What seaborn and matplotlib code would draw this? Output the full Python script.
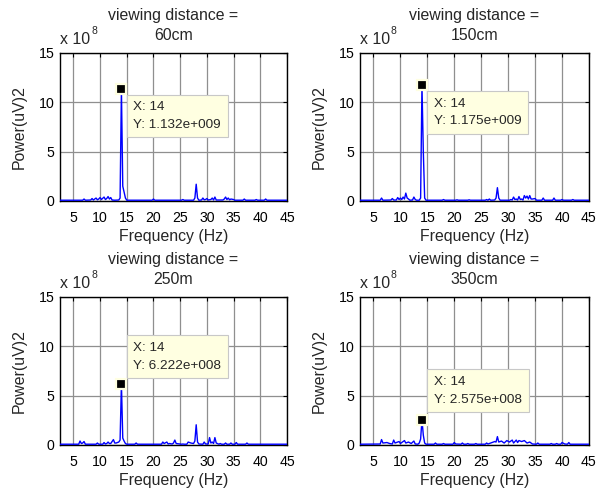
import matplotlib
matplotlib.use("Agg")
import matplotlib.pyplot as plt
import seaborn as sns
import pandas as pd

# Power spectra (units of 1e8 (uV)^2) at selected frequency bins (Hz)
freq_60 = [2.5, 6.75, 7.0, 7.25, 8.25, 8.5, 8.75, 9.25, 9.5, 9.75, 10.0, 10.25,
           10.75, 11.0, 11.25, 11.5, 11.75, 12.0, 12.25, 12.75, 13.5, 13.75, 14.0,
           14.25, 14.5, 14.75, 15.0, 19.75, 20.0, 20.25, 25.25, 25.5, 25.75, 27.5,
           27.75, 28.0, 28.25, 28.5, 29.0, 29.25, 29.5, 29.75, 30.0, 30.25, 30.75,
           31.0, 31.25, 31.5, 31.75, 33.0, 33.25, 33.5, 33.75, 34.0, 34.25, 34.5,
           35.0, 35.25, 36.75, 37.0, 37.25, 39.0, 39.25, 39.5, 40.75, 41.0, 41.25, 45.0]
power_60 = [0.08, 0.08, 0.2, 0.08, 0.1, 0.25, 0.1, 0.3, 0.12, 0.2, 0.35, 0.15,
            0.4, 0.15, 0.25, 0.45, 0.2, 0.35, 0.1, 0.08, 0.1, 0.3, 11.32,
            1.5, 0.9, 0.3, 0.08, 0.08, 0.2, 0.08, 0.08, 0.15, 0.08, 0.08,
            0.3, 1.7, 0.3, 0.08, 0.1, 0.3, 0.12, 0.15, 0.25, 0.1, 0.15,
            0.3, 0.1, 0.4, 0.1, 0.1, 0.2, 0.4, 0.15, 0.3, 0.12, 0.2,
            0.15, 0.08, 0.08, 0.2, 0.08, 0.08, 0.15, 0.08, 0.08, 0.2, 0.08, 0.08]

freq_150 = [2.5, 6.25, 6.5, 6.75, 8.25, 8.5, 8.75, 9.25, 9.5, 9.75, 10.0, 10.25,
            10.5, 10.75, 11.0, 11.25, 11.5, 11.75, 12.25, 12.5, 12.75, 13.0, 13.5,
            13.75, 14.0, 14.25, 14.5, 14.75, 17.75, 18.0, 18.25, 20.25, 20.5, 20.75,
            22.5, 22.75, 23.0, 25.75, 26.0, 26.25, 26.5, 26.75, 27.5, 27.75, 28.0,
            28.25, 28.5, 30.25, 30.5, 30.75, 31.0, 31.25, 31.5, 31.75, 32.0, 32.25,
            32.5, 32.75, 33.0, 33.25, 33.5, 33.75, 34.0, 34.25, 34.5, 35.0, 35.25,
            36.25, 36.5, 36.75, 38.25, 38.5, 38.75, 39.75, 40.0, 40.25, 41.75, 42.0,
            42.25, 45.0]
power_150 = [0.08, 0.08, 0.3, 0.08, 0.1, 0.25, 0.1, 0.1, 0.35, 0.15, 0.3, 0.15,
             0.4, 0.2, 0.8, 0.3, 0.2, 0.08, 0.1, 0.4, 0.15, 0.08, 0.08,
             0.3, 11.75, 5.0, 0.3, 0.08, 0.08, 0.15, 0.08, 0.08, 0.12, 0.08,
             0.08, 0.12, 0.08, 0.08, 0.15, 0.08, 0.2, 0.08, 0.1, 0.3, 1.35,
             0.3, 0.08, 0.08, 0.15, 0.1, 0.4, 0.15, 0.2, 0.1, 0.45, 0.15,
             0.2, 0.1, 0.55, 0.3, 0.5, 0.2, 0.55, 0.2, 0.2, 0.25, 0.08,
             0.08, 0.3, 0.08, 0.08, 0.3, 0.08, 0.08, 0.15, 0.08, 0.08, 0.15,
             0.08, 0.08]

freq_250 = [2.5, 6.0, 6.25, 6.5, 6.75, 7.0, 7.25, 9.25, 9.5, 9.75, 10.5, 10.75,
            11.0, 11.25, 11.5, 11.75, 12.0, 12.5, 12.75, 13.0, 13.5, 13.75, 14.0,
            14.25, 14.5, 14.75, 15.0, 16.5, 16.75, 17.0, 21.5, 21.75, 22.0, 22.5,
            22.75, 23.0, 23.5, 23.75, 24.0, 24.25, 25.25, 25.5, 25.75, 26.25, 26.5,
            27.0, 27.5, 27.75, 28.0, 28.25, 28.5, 29.25, 29.5, 29.75, 30.25, 30.5,
            30.75, 31.0, 31.25, 31.5, 31.75, 32.25, 32.5, 32.75, 33.25, 33.5, 33.75,
            34.25, 34.5, 34.75, 35.25, 35.5, 35.75, 37.25, 37.5, 37.75, 45.0]
power_250 = [0.08, 0.08, 0.4, 0.15, 0.2, 0.35, 0.08, 0.08, 0.2, 0.08, 0.08, 0.25,
             0.1, 0.15, 0.3, 0.15, 0.15, 0.55, 0.2, 0.2, 0.3, 0.5, 6.222,
             0.7, 0.4, 0.15, 0.08, 0.08, 0.2, 0.08, 0.08, 0.3, 0.15, 0.3,
             0.1, 0.15, 0.1, 0.2, 0.5, 0.15, 0.08, 0.1, 0.08, 0.08, 0.3,
             0.2, 0.15, 0.4, 2.05, 0.3, 0.1, 0.08, 0.3, 0.1, 0.1, 0.75,
             0.2, 0.3, 0.15, 0.75, 0.2, 0.08, 0.15, 0.08, 0.08, 0.2, 0.08,
             0.08, 0.2, 0.08, 0.08, 0.25, 0.08, 0.08, 0.2, 0.08, 0.08]

freq_350 = [2.5, 6.25, 6.5, 6.75, 7.5, 8.0, 8.5, 8.75, 9.0, 9.75, 10.0, 10.75,
            11.0, 11.5, 12.0, 12.5, 12.75, 13.25, 13.5, 13.75, 14.0, 14.25, 14.5,
            14.75, 16.25, 16.5, 16.75, 17.75, 18.0, 18.25, 19.75, 20.0, 20.25, 21.25,
            21.5, 21.75, 22.25, 22.5, 22.75, 23.75, 24.0, 24.25, 25.75, 26.0, 26.25,
            27.0, 27.5, 27.75, 28.0, 28.25, 28.75, 29.25, 29.75, 30.25, 30.75, 31.0,
            31.5, 31.75, 32.0, 32.5, 33.0, 33.5, 34.0, 34.5, 35.25, 35.5, 35.75,
            37.75, 38.0, 38.25, 38.75, 39.0, 39.25, 39.75, 40.0, 40.5, 41.0, 41.25,
            41.5, 45.0]
power_350 = [0.08, 0.1, 0.55, 0.2, 0.25, 0.15, 0.1, 0.5, 0.2, 0.35, 0.15, 0.45,
             0.2, 0.3, 0.15, 0.4, 0.1, 0.08, 0.2, 0.6, 2.575, 1.0, 0.2,
             0.08, 0.08, 0.2, 0.08, 0.08, 0.15, 0.08, 0.08, 0.25, 0.1, 0.08,
             0.2, 0.08, 0.08, 0.15, 0.08, 0.08, 0.15, 0.08, 0.08, 0.2, 0.1,
             0.25, 0.35, 0.3, 0.85, 0.3, 0.4, 0.2, 0.45, 0.3, 0.5, 0.2,
             0.5, 0.25, 0.45, 0.35, 0.45, 0.2, 0.3, 0.1, 0.08, 0.2, 0.08,
             0.08, 0.15, 0.08, 0.08, 0.15, 0.08, 0.08, 0.25, 0.1, 0.08, 0.25,
             0.08, 0.08]

titles = ["viewing distance =\n60cm", "viewing distance =\n150cm",
          "viewing distance =\n250m", "viewing distance =\n350cm"]
peak_freq = 14
SCALE = 1e8
x_ticks = [5, 10, 15, 20, 25, 30, 35, 40, 45]
y_ticks = [0, 5, 10, 15]

series = [(freq_60, power_60), (freq_150, power_150),
          (freq_250, power_250), (freq_350, power_350)]

sns.set_style("white")
plt.rcParams["font.family"] = ["Liberation Sans", "DejaVu Sans"]

FS = 11.4      # labels and titles
TFS = 10.2     # tick labels
fig = plt.figure(figsize=(5.97, 4.92), dpi=100)
W, H = 597, 492
rects = [(60, 53, 227, 148), (360, 53, 229, 148),
         (60, 297, 227, 148), (360, 297, 229, 148)]
# data-tip offsets in pixels from the data point, and vertical anchoring
tip_pos = [(12, -12, "top"), (12, -13, "top"), (12, 12, "bottom"), (12, 14, "bottom")]


def matlab_exp(v):
    mant, ex = f"{v:.3e}".split("e")
    return f"{mant}e{ex[0]}{int(ex[1:]):03d}"


for (fr, pw), title, rect, tip in zip(series, titles, rects, tip_pos):
    assert len(fr) == len(pw)
    l, t, w, h = rect
    ax = fig.add_axes([l / W, (H - t - h) / H, w / W, h / H])
    df = pd.DataFrame({"Frequency": fr, "Power": pw})
    sns.lineplot(data=df, x="Frequency", y="Power", ax=ax, color="#0000ff",
                 lw=1.0, estimator=None, sort=False, zorder=3)
    ax.set_xlim(2.5, 45)
    ax.set_ylim(0, 15)
    ax.set_xticks(x_ticks)
    ax.set_yticks(y_ticks)
    ax.grid(True, color="#8f8f8f", lw=0.9, ls="-")
    ax.set_axisbelow(True)
    for sp in ax.spines.values():
        sp.set_visible(True)
        sp.set_color("black")
        sp.set_linewidth(1.0)
    ax.tick_params(direction="in", length=3, width=0.8, top=True, right=True,
                   labelsize=TFS, colors="black")
    ax.tick_params(axis="x", pad=7)
    ax.tick_params(axis="y", pad=4)
    ax.set_xlabel("Frequency (Hz)", fontsize=FS, labelpad=3)
    ax.set_ylabel("Power(uV)2", fontsize=FS)
    ax.yaxis.set_label_coords(-33 / w, 0.5)
    ax.set_title(title, fontsize=FS, pad=9, linespacing=1.45)

    # exponent label above the y axis
    ax.annotate("x 10", xy=(0, 1), xycoords="axes fraction", xytext=(0, 6),
                textcoords="offset pixels", fontsize=FS, ha="left", va="bottom")
    ax.annotate("8", xy=(0, 1), xycoords="axes fraction", xytext=(31, 17),
                textcoords="offset pixels", fontsize=7.5, ha="left", va="bottom")

    # data tip at the 14 Hz peak
    peak = pw[fr.index(peak_freq)]
    ax.plot([peak_freq], [peak], marker="s", ms=7, mfc="black", mec="#ffffe1",
            mew=1.6, ls="none", zorder=5)
    dx, dy, va = tip
    ax.annotate(f"X: {peak_freq}\nY: {matlab_exp(peak * SCALE)}",
                xy=(peak_freq, peak), xytext=(dx, dy), textcoords="offset pixels",
                ha="left", va=va, fontsize=9.7, linespacing=1.6, zorder=6,
                bbox=dict(boxstyle="square,pad=0.5", fc="#ffffe1", ec="#c8c8c8", lw=0.8))

fig.savefig("out.png", dpi=100)
